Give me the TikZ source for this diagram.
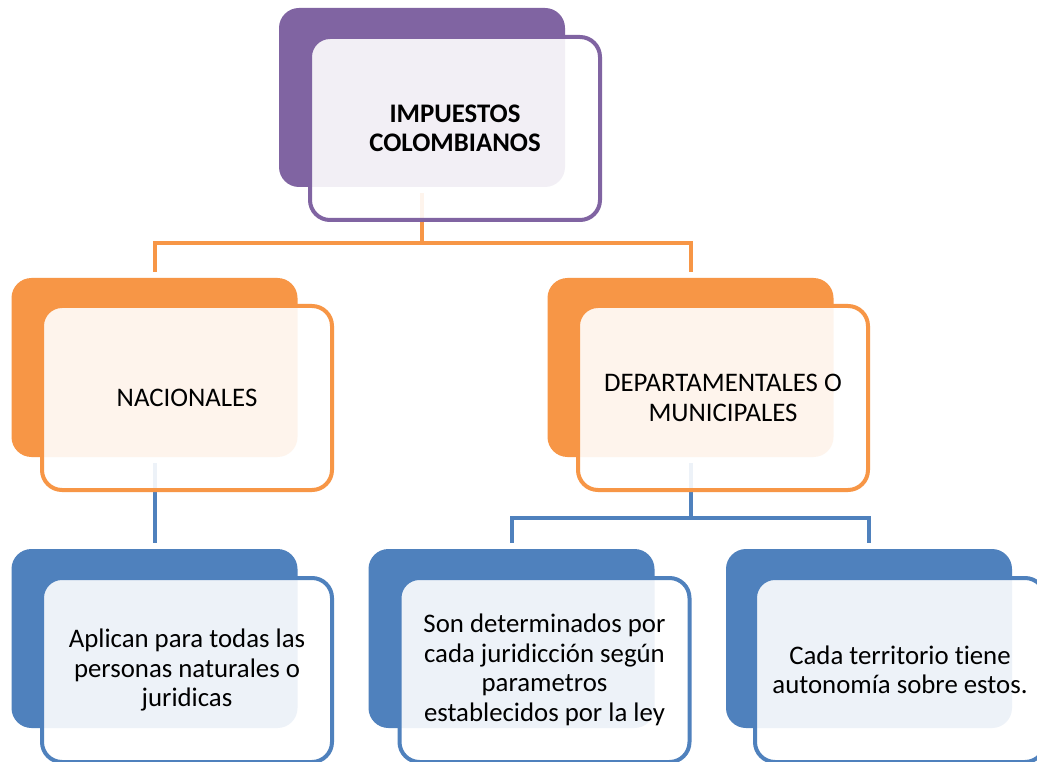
\documentclass[tikz,border=0pt]{standalone}
\usepackage{fontspec}
\setmainfont{Carlito}[Ligatures=NoCommon]
\definecolor{cpurple}{HTML}{8064A2}
\definecolor{corange}{HTML}{F79646}
\definecolor{cblue}{HTML}{4F81BD}
\begin{document}
\begin{tikzpicture}[x=1pt,y=-1pt,
  backbox/.style={rectangle,rounded corners=20pt,fill=#1,draw=none,minimum width=286pt,minimum height=179pt,inner sep=0pt},
  frontbox/.style={rectangle,rounded corners=20pt,fill=white,fill opacity=0.9,text opacity=1,draw=#1,line width=4pt,minimum width=290pt,minimum height=184pt,align=center,inner sep=0pt,font=\fontsize{26.8}{29.5}\selectfont},
  conn/.style={draw=#1,line width=4pt,shorten <=6pt,shorten >=6pt}
]
\clip (0,0) rectangle (1037,762);
\fill[white] (0,0) rectangle (1037,762);
% back boxes
\node[backbox=cpurple] (tb) at (422,97.5) {};
\node[backbox=corange] (lb) at (154.5,367.5) {};
\node[backbox=corange] (rb) at (690.5,367.5) {};
\node[backbox=cblue] (lc) at (154.5,638.5) {};
\node[backbox=cblue] (mc) at (511.5,638.5) {};
\node[backbox=cblue] (rc) at (869,638.5) {};
% connectors
\draw[conn=corange] (tb.south) -- ++(0,56) -| (lb.north);
\draw[conn=corange] (tb.south) -- ++(0,56) -| (rb.north);
\draw[conn=cblue] (lb.south) -- (lc.north);
\draw[conn=cblue] (rb.south) -- ++(0,61) -| (mc.north);
\draw[conn=cblue] (rb.south) -- ++(0,61) -| (rc.north);
% front boxes
\node[frontbox=cpurple,minimum height=183pt] (t) at (455,128.5) {\bfseries IMPUESTOS\\\bfseries COLOMBIANOS};
\node[frontbox=corange] (l) at (187,398) {NACIONALES};
\node[frontbox=corange] (r) at (723,398) {DEPARTAMENTALES O\\MUNICIPALES};
\node[frontbox=cblue] (lf) at (187,670) {Aplican para todas las\\personas naturales o\\juridicas};
\node[frontbox=cblue] (mf) at (544.5,670) {Son determinados por\\cada juridicción según\\parametros\\establecidos por la ley};
\node[frontbox=cblue] (rf) at (900,670) {Cada territorio tiene\\autonomía sobre estos.};
\end{tikzpicture}
\end{document}
